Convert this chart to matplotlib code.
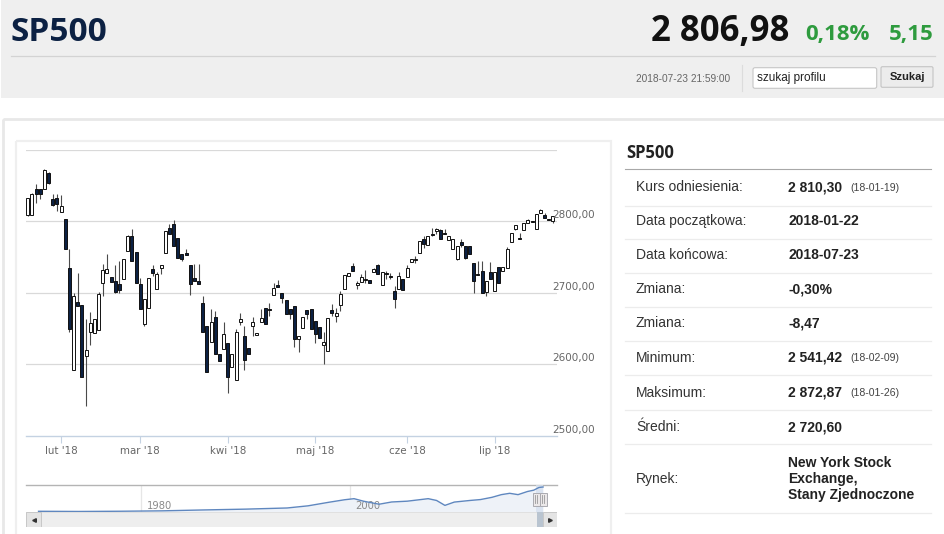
import matplotlib
matplotlib.use("Agg")
import matplotlib.pyplot as plt
from matplotlib.patches import Rectangle, FancyBboxPatch
import matplotlib.transforms as mtransforms

W, H = 945, 534

# daily candles, 2018-01-22 .. 2018-07-23
opens = [2809.0, 2808.4, 2845.6, 2845.6, 2845.6, 2868.0, 2831.6, 2833.0, 2813.0, 2803.7,
         2735.3, 2591.9, 2687.8, 2682.7, 2611.0, 2644.5, 2643.1, 2648.2, 2714.3, 2728.3,
         2722.7, 2716.7, 2712.0, 2719.9, 2758.5, 2779.0, 2757.6, 2712.9, 2656.2, 2679.4,
         2733.4, 2705.0, 2735.3, 2756.2, 2791.1, 2795.8, 2776.7, 2753.9, 2756.2, 2738.5,
         2721.3, 2716.7, 2685.5, 2652.9, 2631.5, 2665.9, 2614.3, 2621.2, 2629.6, 2595.6,
         2577.9, 2659.4, 2638.9, 2622.2, 2652.9, 2640.8, 2658.5, 2679.4, 2678.0, 2697.1,
         2711.1, 2700.4, 2690.1, 2677.1, 2681.7, 2635.2, 2650.1, 2675.7, 2678.0, 2660.8,
         2651.5, 2626.8, 2618.9, 2675.7, 2666.9, 2683.1, 2706.0, 2723.6, 2737.1, 2711.1,
         2715.2, 2718.1, 2717.6, 2729.2, 2738.5, 2711.1, 2728.3, 2723.6, 2702.7, 2705.0,
         2719.0, 2722.7, 2743.2, 2746.0, 2756.2, 2775.8, 2766.5, 2781.8, 2786.5, 2787.9,
         2783.2, 2773.5, 2760.9, 2746.9, 2771.1, 2765.5, 2765.5, 2742.2, 2726.0, 2730.6,
         2701.3, 2729.2, 2702.7, 2736.2, 2730.6, 2735.3, 2771.1, 2789.7, 2777.2, 2787.4,
         2798.1, 2800.5, 2789.7, 2811.2, 2808.4, 2802.8, 2800.5]
highs = [2833.0, 2840.0, 2852.6, 2845.6, 2872.9, 2869.3, 2837.7, 2837.7, 2836.3, 2804.0,
         2761.8, 2700.4, 2728.3, 2682.7, 2663.1, 2673.8, 2663.1, 2701.3, 2739.9, 2753.9,
         2722.7, 2738.5, 2744.6, 2746.9, 2780.4, 2788.8, 2757.6, 2721.3, 2691.1, 2721.3,
         2738.5, 2729.2, 2738.5, 2786.5, 2795.8, 2801.4, 2776.7, 2753.9, 2760.9, 2738.5,
         2739.9, 2739.9, 2695.7, 2652.9, 2677.1, 2674.8, 2614.3, 2658.5, 2629.6, 2614.3,
         2649.2, 2672.4, 2653.8, 2622.2, 2665.5, 2643.1, 2678.0, 2679.4, 2686.4, 2714.3,
         2717.6, 2700.4, 2690.1, 2677.1, 2681.7, 2639.9, 2666.4, 2675.7, 2678.0, 2660.8,
         2651.5, 2644.5, 2664.5, 2684.1, 2679.4, 2702.7, 2724.6, 2728.3, 2742.2, 2716.7,
         2726.0, 2731.6, 2717.6, 2735.3, 2739.9, 2729.2, 2730.6, 2728.3, 2709.7, 2729.2,
         2719.0, 2738.5, 2746.9, 2751.6, 2772.5, 2779.5, 2779.5, 2791.1, 2791.1, 2789.7,
         2788.8, 2779.5, 2774.9, 2765.5, 2775.8, 2765.5, 2765.5, 2742.2, 2744.6, 2744.6,
         2716.7, 2743.2, 2729.2, 2736.2, 2736.2, 2764.6, 2784.2, 2794.4, 2784.2, 2798.1,
         2802.8, 2800.5, 2809.8, 2816.7, 2811.2, 2802.8, 2806.5]
lows = [2808.0, 2808.4, 2826.1, 2830.7, 2845.6, 2852.0, 2821.4, 2814.4, 2813.0, 2761.8,
        2645.4, 2591.9, 2681.7, 2582.6, 2541.4, 2626.8, 2643.1, 2648.2, 2695.7, 2728.3,
        2715.2, 2700.4, 2699.4, 2719.9, 2758.5, 2744.6, 2714.3, 2677.1, 2653.8, 2679.4,
        2723.6, 2705.0, 2726.0, 2756.2, 2782.8, 2765.5, 2749.2, 2744.6, 2752.5, 2696.7,
        2716.7, 2712.0, 2644.5, 2589.6, 2631.5, 2613.8, 2605.0, 2621.2, 2559.8, 2595.6,
        2577.9, 2654.7, 2592.4, 2614.3, 2639.9, 2640.8, 2658.5, 2656.2, 2667.8, 2697.1,
        2708.7, 2686.4, 2670.1, 2663.1, 2623.6, 2616.6, 2650.1, 2663.1, 2649.2, 2629.6,
        2636.1, 2600.3, 2618.9, 2667.8, 2658.5, 2674.8, 2706.0, 2723.6, 2730.6, 2705.0,
        2715.2, 2714.3, 2713.4, 2729.2, 2726.0, 2711.1, 2719.0, 2719.0, 2679.4, 2705.0,
        2703.6, 2722.7, 2743.2, 2742.2, 2756.2, 2763.2, 2766.5, 2779.5, 2781.8, 2775.8,
        2781.8, 2773.5, 2760.9, 2745.5, 2764.6, 2746.9, 2753.9, 2700.4, 2724.6, 2700.4,
        2695.7, 2719.0, 2702.7, 2713.4, 2730.6, 2735.3, 2771.1, 2787.9, 2774.9, 2787.4,
        2798.1, 2799.1, 2789.7, 2811.2, 2805.1, 2801.9, 2797.2]
closes = [2833.0, 2838.6, 2837.7, 2838.6, 2871.7, 2854.0, 2822.3, 2823.7, 2821.4, 2761.8,
          2649.2, 2695.7, 2681.7, 2582.6, 2620.3, 2657.1, 2663.1, 2699.0, 2732.0, 2733.0,
          2715.2, 2701.3, 2703.6, 2746.9, 2779.5, 2744.6, 2714.3, 2678.0, 2691.1, 2721.3,
          2728.3, 2726.9, 2738.5, 2786.5, 2782.8, 2765.5, 2749.2, 2746.9, 2752.5, 2712.9,
          2716.7, 2712.0, 2644.5, 2589.6, 2659.4, 2613.8, 2605.0, 2642.2, 2582.6, 2614.3,
          2645.4, 2663.1, 2605.9, 2614.3, 2658.5, 2643.1, 2664.5, 2656.2, 2676.2, 2706.4,
          2708.7, 2693.4, 2670.1, 2670.1, 2635.2, 2639.9, 2666.4, 2670.1, 2649.2, 2642.2,
          2636.1, 2631.5, 2664.5, 2672.4, 2672.4, 2699.0, 2724.6, 2728.3, 2730.6, 2713.4,
          2722.7, 2719.9, 2713.4, 2733.9, 2726.0, 2729.2, 2726.0, 2722.7, 2691.1, 2723.6,
          2703.6, 2735.3, 2746.9, 2747.9, 2772.5, 2767.9, 2779.5, 2780.9, 2788.8, 2775.8,
          2781.8, 2779.5, 2774.9, 2765.5, 2766.5, 2749.2, 2753.9, 2716.7, 2724.6, 2700.4,
          2716.7, 2719.0, 2729.2, 2713.4, 2736.2, 2760.9, 2784.2, 2794.4, 2774.9, 2798.1,
          2801.4, 2799.1, 2809.8, 2815.3, 2805.1, 2801.9, 2806.98]

month_labels = ["lut '18", "mar '18", "kwi '18", "maj '18", "cze '18", "lip '18"]
month_idx = [8, 27, 48, 69, 91, 112]
grid_levels = [2600, 2700, 2800, 2900]
label_levels = [2500, 2600, 2700, 2800]

# navigator: long history of the index
nav_years = [1970.2, 1974, 1978, 1982, 1986, 1990, 1994, 1996, 1998, 1999.5, 2000.4,
             2001.3, 2002.8, 2004, 2005.5, 2007.5, 2008.3, 2009.1, 2010, 2011.5, 2012.5,
             2013.6, 2014.5, 2015.3, 2016.1, 2017, 2017.6, 2018.1, 2018.5]
nav_values = [90, 70, 95, 140, 240, 330, 460, 700, 1100, 1380, 1500,
              1220, 880, 1130, 1220, 1500, 1300, 750, 1120, 1300, 1400,
              1650, 1950, 2100, 1950, 2300, 2450, 2750, 2806]
nav_labels = [1980, 2000]
range_start, range_end = 2017.85, 2018.5

table_labels = ['Kurs odniesienia:', 'Data początkowa:', 'Data końcowa:', 'Zmiana:', 'Zmiana:',
                'Minimum:', 'Maksimum:', 'Średni:', 'Rynek:']
table_values = ['2 810,30', '2018-01-22', '2018-07-23', '-0,30%', '-8,47',
                '2 541,42', '2 872,87', '2 720,60', 'New York Stock\nExchange,\nStany Zjednoczone']
table_notes = ['(18-01-19)', '', '', '', '', '(18-02-09)', '(18-01-26)', '', '']

ticker = 'SP500'
last_price = '2 806,98'
change_pct = '0,18%'
change_abs = '5,15'
timestamp = '2018-07-23 21:59:00'

NAVY = '#0c2143'
GREEN = '#2e9b3e'


def px_axes(x0, y0, x1, y1):
    return [x0 / W, 1 - y1 / H, (x1 - x0) / W, (y1 - y0) / H]


fig = plt.figure(figsize=(W / 100, H / 100), dpi=100)
fig.patch.set_facecolor('white')

bg = fig.add_axes([0, 0, 1, 1])
bg.set_xlim(0, W)
bg.set_ylim(H, 0)
bg.axis('off')

# ---- header ----
bg.add_patch(Rectangle((1, 0), W, 98, fc='#efefef', ec='none'))
bg.plot([11, 935], [56, 56], color='#d3d3d3', lw=0.9)
bg.text(10, 41, ticker, fontsize=24, family='Open Sans', weight='bold',
        color=NAVY, va='baseline', ha='left')
bg.text(789, 41.5, last_price, fontsize=25, family='Open Sans', weight='bold',
        color='#111', va='baseline', ha='right')
bg.text(805, 40, change_pct, fontsize=16, family='Open Sans', weight='bold',
        color=GREEN, va='baseline', ha='left')
bg.text(934, 40, change_abs, fontsize=16, family='Open Sans', weight='bold',
        color=GREEN, va='baseline', ha='right')
bg.text(730.5, 79, timestamp, fontsize=7.3, family='Liberation Sans',
        color='#666', va='center', ha='right')
bg.plot([741.7, 741.7], [65, 91], color='#dcdcdc', lw=0.8)
bg.add_patch(FancyBboxPatch((753, 67.7), 123.7, 20.6, boxstyle='round,pad=0,rounding_size=2',
                            fc='white', ec='#c6c6c6', lw=0.8))
bg.text(757, 78.5, 'szukaj profilu', fontsize=8.5, family='Liberation Sans',
        color='#222', va='center', ha='left')
bg.add_patch(FancyBboxPatch((881, 66.7), 52, 20.6, boxstyle='round,pad=0,rounding_size=1.5',
                            fc='#ececec', ec='#c4c4c4', lw=0.8))
bg.text(907, 77.5, 'Szukaj', fontsize=8, family='Liberation Sans', weight='bold',
        color='#222', va='center', ha='center')

# ---- panels ----
bg.add_patch(Rectangle((2.5, 118.5), W + 10, 430, fc='none', ec='#e8e8e8', lw=2))
bg.add_patch(Rectangle((16, 140.8), 594.5, 420, fc='none', ec='#efefef', lw=1.6))

# ---- info table ----
bg.text(626, 153.5, ticker, fontsize=12, family='Open Sans', weight='bold',
        color='#222', va='center', ha='left')
bg.plot([625, 930.7], [169.3, 169.3], color='#a8a8a8', lw=0.8)
row_y = [187.3, 221, 255, 289, 323, 357.7, 392.7, 427.3, 479]
sep_y = [205.7, 239, 272.7, 306.7, 340.7, 375, 410, 444, 513.3]
for y in sep_y:
    bg.plot([625, 930.7], [y, y], color='#ececec', lw=0.9)
for y, lab, val, note in zip(row_y, table_labels, table_values, table_notes):
    bg.text(636, y, lab, fontsize=10, family='Liberation Sans', color='#333',
            va='center', ha='left')
    bg.text(788.5, y, val, fontsize=10, family='Liberation Sans', weight='bold',
            color='#222', va='center', ha='left', linespacing=1.22)
    if note:
        bg.text(850, y + 0.5, note, fontsize=7.6, family='Liberation Sans',
                color='#444', va='center', ha='left')

# ---- main candlestick chart ----
ax = fig.add_axes(px_axes(26, 150, 556.7, 435.7))
ax.set_xlim(-0.4, 126.9)
ax.set_ylim(2500, 2900)
ax.set_facecolor('none')
for s in ['top', 'left', 'right']:
    ax.spines[s].set_visible(False)
ax.spines['bottom'].set_color('#c4d2e2')
ax.spines['bottom'].set_linewidth(1.0)

for lvl in grid_levels:
    ax.axhline(lvl, color='#d9d9d9', lw=0.9, zorder=0)

xs = list(range(len(opens)))
ax.vlines(xs, lows, highs, color='#4a4a4a', lw=0.8, zorder=2)
for i, o, c in zip(xs, opens, closes):
    down = c < o
    bottom = min(o, c)
    height = max(abs(c - o), 0.6)
    ax.bar(i, height, bottom=bottom, width=0.72,
           color=NAVY if down else 'white', edgecolor='#111', lw=0.7, zorder=3)

ax.set_yticks([])
ax.set_xticks(month_idx)
ax.set_xticklabels(month_labels)
ax.tick_params(axis='x', length=5.3, width=0.8, color='#c4d2e2', pad=1.8,
               labelsize=7.4, labelcolor='#666')

for lvl in label_levels:
    ax.annotate(f'{lvl},00', xy=(0.991, lvl), xycoords=('axes fraction', 'data'),
                xytext=(0, 4.4), textcoords='offset points', ha='left', va='center',
                fontsize=7.5, color='#666', annotation_clip=False, zorder=5)

# ---- navigator ----
nav = fig.add_axes(px_axes(26, 485, 556.7, 512.3))
nav.set_xlim(1969.0, 2019.8)
nav.set_ylim(-23, 3028)
nav.set_xticks([])
nav.set_yticks([])
for s in ['bottom', 'left', 'right']:
    nav.spines[s].set_visible(False)
nav.spines['top'].set_color('#b4b4b4')
nav.spines['top'].set_linewidth(1.0)
for yr in nav_labels:
    nav.axvline(yr, color='#e6e6e6', lw=0.9, zorder=0)
    nav.annotate(str(yr), xy=(yr, 0), xycoords=('data', 'axes fraction'),
                 xytext=(4, 1), textcoords='offset points', ha='left', va='bottom',
                 fontsize=7.2, color='#8a8a8a', zorder=3)
nav.fill_between(nav_years, nav_values, -23, color='#eef2f8', zorder=1, lw=0)
nav.plot(nav_years, nav_values, color='#5f87bf', lw=1.0, zorder=4)
nav.axvspan(range_start, range_end, color='#d5e0ee', alpha=0.8, zorder=3, lw=0)
blend = mtransforms.blended_transform_factory(nav.transData, nav.transAxes)
for edge in (range_start, range_end):
    nav.add_patch(Rectangle((edge - 0.33, 0.23), 0.66, 0.49, transform=blend,
                            fc='#ebe8e9', ec='#aaaab0', lw=0.7, zorder=5))
    for dx in (-0.1, 0.1):
        nav.plot([edge + dx, edge + dx], [0.33, 0.62], transform=blend,
                 color='#999', lw=0.6, zorder=6)

# ---- scrollbar ----
sb = fig.add_axes(px_axes(26.5, 512.3, 557, 526.7))
sb.set_xlim(1969.0, 2019.8)
sb.set_ylim(0, 1)
sb.axis('off')
sb.add_patch(Rectangle((0, 0), 1, 1, transform=sb.transAxes, fc='#eeeeee',
                       ec='#e0e0e0', lw=0.7))
sb.axvspan(range_start, range_end, color='#b9c4d0', lw=0)
btn_w = 14.3 / 530.5
for x0, mk in ((0, '<'), (1 - btn_w, '>')):
    sb.add_patch(Rectangle((x0, 0), btn_w, 1, transform=sb.transAxes, fc='#e4e4e4',
                           ec='#c8c8c8', lw=0.7))
    sb.plot([x0 + btn_w / 2], [0.5], marker=mk, ms=2.6, color='#333',
            transform=sb.transAxes, lw=0)

fig.savefig('out.png', dpi=100)
